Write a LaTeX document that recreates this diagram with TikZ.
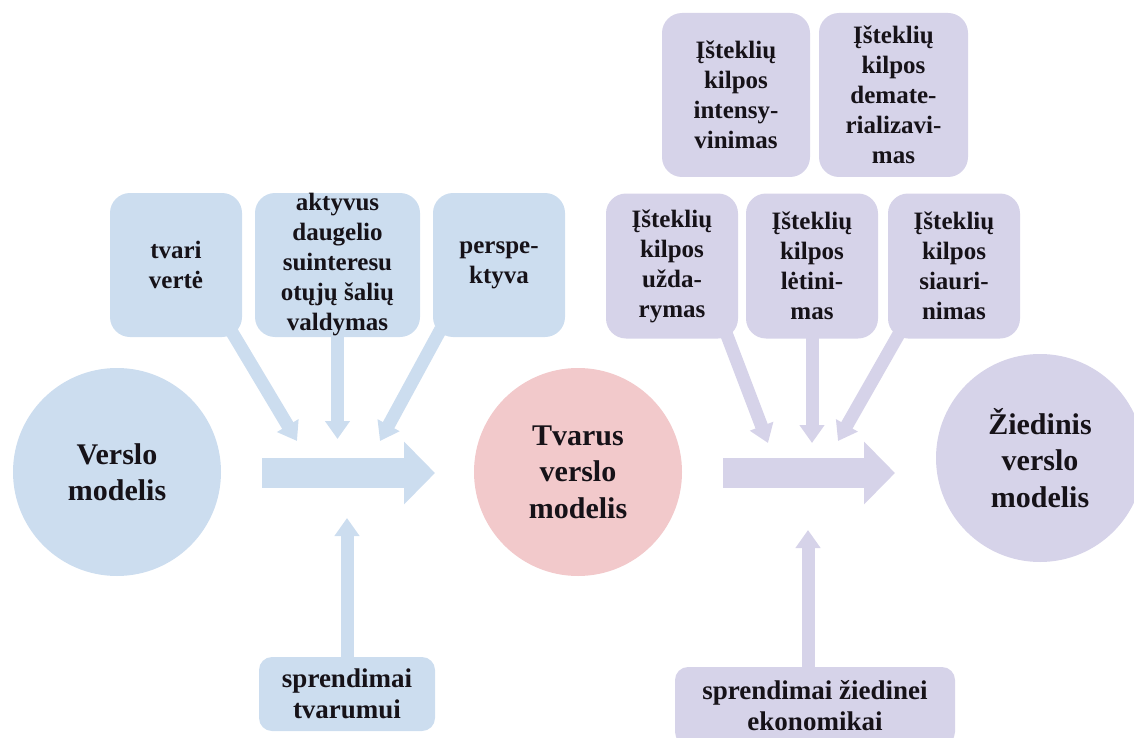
\documentclass[tikz,border=0pt]{standalone}
\usepackage{fontspec}
\setmainfont{Liberation Serif}
\usetikzlibrary{arrows.meta}
\definecolor{bluefill}{RGB}{204,221,239}
\definecolor{pinkfill}{RGB}{242,201,203}
\definecolor{lilacfill}{RGB}{214,211,233}
\definecolor{ink}{RGB}{22,18,24}
\pgfdeclarelayer{bg}
\pgfsetlayers{bg,main}

\begin{document}
\begin{tikzpicture}[x=1pt,y=-1pt,
  circ/.style={circle, minimum size=208pt, inner sep=0pt, align=center,
    font=\fontsize{30}{36.5}\selectfont\bfseries, text=ink},
  card/.style={rounded corners=20pt, minimum width=132pt, minimum height=144pt,
    inner sep=0pt, align=center, font=\fontsize{25}{30}\selectfont\bfseries, text=ink},
  basecard/.style={rounded corners=13pt, inner sep=0pt, align=center,
    font=\fontsize{27}{31}\selectfont\bfseries, text=ink},
  bigarrow/.style={line width=30pt, -{Triangle[width=61pt,length=31pt]}},
  smallarrow/.style={line width=13pt, -{Triangle[width=24pt,length=18pt]}},
]
\clip (0,0) rectangle (1134,738);
\useasboundingbox (0,0) rectangle (1134,738);

% the three business-model circles
\node[circ, fill=bluefill]  (vm) at (117,472) {Verslo\\modelis};
\node[circ, fill=pinkfill]  (tv) at (578,472) {Tvarus\\verslo\\modelis};
\node[circ, fill=lilacfill] (zv) at (1040,458) {Žiedinis\\verslo\\modelis};

% sustainability inputs
\node[card, fill=bluefill] (c1) at (176,265) {tvari\\vertė};
\node[card, fill=bluefill, minimum width=165pt] (c2) at (337.5,265)
  {aktyvus\\daugelio\\suinteresu\\otųjų šalių\\valdymas};
\node[card, fill=bluefill] (c3) at (499,265) {perspe-\\ktyva};
\node[basecard, fill=bluefill, minimum width=176pt, minimum height=74pt] (b1) at (347,694)
  {sprendimai\\tvarumui};

% circularity inputs
\node[card, fill=lilacfill, minimum width=148pt, minimum height=164pt] (i1) at (736,95)
  {Įšteklių\\kilpos\\intensy-\\vinimas};
\node[card, fill=lilacfill, minimum width=149pt, minimum height=164pt] (i2) at (893.5,95)
  {Įšteklių\\kilpos\\demate-\\rializavi-\\mas};
\node[card, fill=lilacfill, minimum height=145pt] (p1) at (672,266)
  {Įšteklių\\kilpos\\užda-\\rymas};
\node[card, fill=lilacfill, minimum height=145pt] (p2) at (812,266)
  {Įšteklių\\kilpos\\lėtini-\\mas};
\node[card, fill=lilacfill, minimum height=145pt] (p3) at (954,266)
  {Įšteklių\\kilpos\\siauri-\\nimas};
\node[basecard, fill=lilacfill, minimum width=280pt, minimum height=78pt] (b2) at (815,706)
  {sprendimai žiedinei\\ekonomikai};

% ends of the transition arrows
\coordinate (a1s) at (262,473);
\coordinate (a1e) at (435,473);
\coordinate (a2s) at (723,473);
\coordinate (a2e) at (895,473);
% tips of the input arrows
\coordinate (t1) at (297,441);
\coordinate (t2) at (337.5,439);
\coordinate (t3) at (380,441);
\coordinate (t4) at (347,518);
\coordinate (u1) at (768,443);
\coordinate (u2) at (812,443);
\coordinate (u3) at (838,441);
\coordinate (u4) at (808,530);

\begin{pgfonlayer}{bg}
  \draw[bigarrow, draw=bluefill, fill=bluefill] (a1s) -- (a1e);
  \draw[bigarrow, draw=lilacfill, fill=lilacfill] (a2s) -- (a2e);

  \begin{scope}[draw=bluefill, fill=bluefill]
    \draw[smallarrow] ([xshift=-12pt,yshift=8pt]c1.south east) -- (t1);
    \draw[smallarrow] ([yshift=8pt]c2.south) -- (t2);
    \draw[smallarrow] ([xshift=8pt,yshift=8pt]c3.south west) -- (t3);
    \draw[smallarrow] ([yshift=-8pt]b1.north) -- (t4);
  \end{scope}
  \begin{scope}[draw=lilacfill, fill=lilacfill]
    \draw[smallarrow] ([xshift=-13pt,yshift=8pt]p1.south east) -- (u1);
    \draw[smallarrow] ([yshift=8pt]p2.south) -- (u2);
    \draw[smallarrow] ([xshift=13pt,yshift=8pt]p3.south west) -- (u3);
    \draw[smallarrow] ([xshift=-7pt,yshift=-8pt]b2.north) -- (u4);
  \end{scope}
\end{pgfonlayer}
\end{tikzpicture}
\end{document}
